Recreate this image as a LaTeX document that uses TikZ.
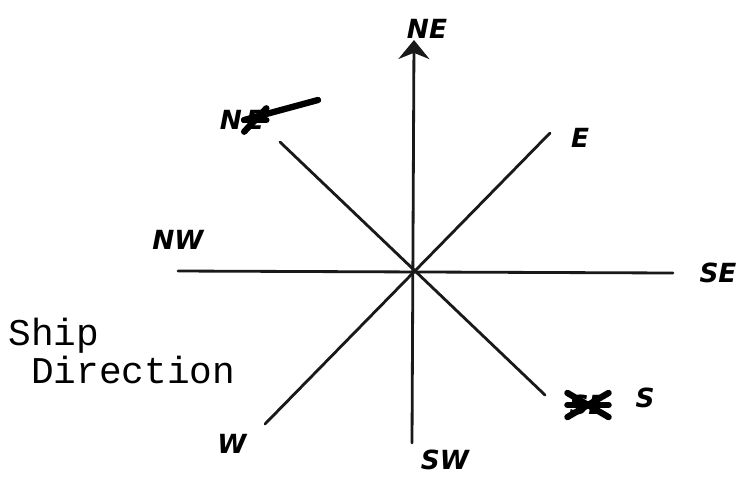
\documentclass[tikz,border=0pt]{standalone}
\usepackage{fontspec}
\setmonofont{Liberation Mono}
\newfontfamily\handfont{DejaVu Sans}
\usetikzlibrary{arrows.meta,positioning}
\tikzset{
spoke/.style={line width=1.6pt,draw=black!90,line cap=round},
pointer/.style={spoke,-{Stealth[length=3.8mm,width=6.2mm]}},
hand/.style={font=\handfont\itshape\bfseries\fontsize{15}{15}\selectfont,inner sep=1pt},
scrawl/.style={line width=3.6pt,line cap=round},
caption/.style={font=\ttfamily\fontsize{21.5}{21.5}\selectfont,align=left,inner sep=0pt}}

\begin{document}
\begin{tikzpicture}[x=0.02cm,y=-0.02cm]
\useasboundingbox[fill=white] (0,0) rectangle (754,478);
% centre and spoke ends
\coordinate (c) at (412,272);
\coordinate (nEnd) at (414,40);
\coordinate (sEnd) at (412,443);
\coordinate (wEnd) at (178,271);
\coordinate (eEnd) at (673,273);
\coordinate (nwEnd) at (280,142);
\coordinate (neEnd) at (550,133);
\coordinate (seEnd) at (545,395);
\coordinate (swEnd) at (265,424);
\draw[pointer] (sEnd)--(nEnd);
\draw[spoke] (wEnd)--(eEnd);
\draw[spoke] (nwEnd)--(seEnd);
\draw[spoke] (swEnd)--(neEnd);
% handwritten labels
\node[hand] (top) at (427,29) {NE};
\node[hand] (upleft) at (231,120) {N};
\node[hand,right=0pt of upleft] (upleftx) {E};
\draw[scrawl] (upleftx.south west)--(upleftx.north east);
\draw[scrawl] (upleftx.west)--(upleftx.east);
\draw[scrawl] (upleftx.west)--(318,100);
\node[hand] (upright) at (580,138) {E};
\node[hand] (left) at (178,240) {NW};
\node[hand] (right) at (718,273) {SE};
\node[hand] (lowrightx) at (588,405) {SE};
\draw[scrawl] (lowrightx.south west)--(lowrightx.north east);
\draw[scrawl] (lowrightx.west)--(lowrightx.east);
\draw[scrawl] (lowrightx.north west)--(lowrightx.south east);
\node[hand] (lowright) at (645,398) {S};
\node[hand] (lowleft) at (232,444) {W};
\node[hand] (bottom) at (445,460) {SW};
% typed caption
\node[caption,anchor=north west] (ship) at (8,318) {Ship\\\hspace*{0.6em}Direction};
\end{tikzpicture}
\end{document}
